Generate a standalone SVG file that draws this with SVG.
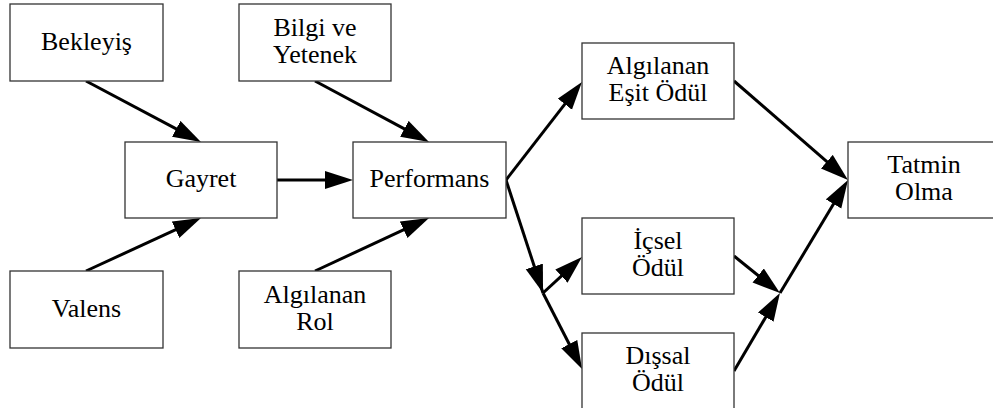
<svg xmlns="http://www.w3.org/2000/svg" width="993" height="408" viewBox="0 0 993 408">
  <defs>
    <!-- filled arrowhead; tip lies 20px beyond the path end -->
    <marker id="arrow" markerUnits="userSpaceOnUse" markerWidth="30" markerHeight="20" refX="8" refY="9" orient="auto">
      <path d="M0,0 L28,9 L0,18 z" fill="#000"/>
    </marker>
    <style>
      .box { fill: #fff; stroke: #333; stroke-width: 1.3; }
      .lbl { font-family: "Times New Roman", Times, "Liberation Serif", "DejaVu Serif", serif; font-size: 26px; fill: #000; text-anchor: middle; }
      .edge { stroke: #000; stroke-width: 3; fill: none; }
      .arr { marker-end: url(#arrow); }
    </style>
  </defs>
  <rect width="993" height="408" fill="#fff"/>

  <g id="connectors">
    <line class="edge arr" x1="86" y1="81" x2="183.3" y2="132.6"/>
    <line class="edge arr" x1="315" y1="81" x2="411.4" y2="132.6"/>
    <line class="edge arr" x1="86" y1="271" x2="182.8" y2="226.4"/>
    <line class="edge arr" x1="315" y1="271" x2="410.9" y2="226.4"/>
    <line class="edge arr" x1="277" y1="180" x2="333" y2="180"/>
    <line class="edge arr" x1="506" y1="180" x2="569.7" y2="97.8"/>
    <line class="edge arr" x1="506" y1="180" x2="536.8" y2="274"/>
    <line class="edge" x1="536.8" y1="274" x2="543" y2="293"/>
    <line class="edge arr" x1="543" y1="293" x2="567.3" y2="270.6"/>
    <line class="edge arr" x1="543" y1="293" x2="572.9" y2="351.2"/>
    <line class="edge arr" x1="734" y1="81" x2="832.9" y2="166.9"/>
    <line class="edge arr" x1="734" y1="256" x2="764.4" y2="280.5"/>
    <line class="edge arr" x1="734" y1="371" x2="769.8" y2="310.2"/>
    <line class="edge arr" x1="780" y1="293" x2="837.7" y2="197.1"/>
  </g>

  <g id="bekleyis">
    <rect class="box" x="10" y="4" width="153" height="77"/>
    <text class="lbl" x="86.5" y="49.5">Bekleyiş</text>
  </g>
  <g id="bilgi-yetenek">
    <rect class="box" x="239" y="4" width="152" height="77"/>
    <text class="lbl" x="315" y="35.5">Bilgi ve</text>
    <text class="lbl" x="315" y="62.5">Yetenek</text>
  </g>
  <g id="gayret">
    <rect class="box" x="125" y="142" width="152" height="76"/>
    <text class="lbl" x="201" y="187">Gayret</text>
  </g>
  <g id="performans">
    <rect class="box" x="353" y="142" width="153" height="76"/>
    <text class="lbl" x="429.5" y="187">Performans</text>
  </g>
  <g id="valens">
    <rect class="box" x="10" y="271" width="153" height="77"/>
    <text class="lbl" x="86.5" y="316.5">Valens</text>
  </g>
  <g id="algilanan-rol">
    <rect class="box" x="239" y="271" width="152" height="77"/>
    <text class="lbl" x="315" y="302.5">Algılanan</text>
    <text class="lbl" x="315" y="329.5">Rol</text>
  </g>
  <g id="esit-odul">
    <rect class="box" x="582" y="43" width="152" height="76"/>
    <text class="lbl" x="658" y="74">Algılanan</text>
    <text class="lbl" x="658" y="101">Eşit Ödül</text>
  </g>
  <g id="icsel-odul">
    <rect class="box" x="582" y="218" width="152" height="76"/>
    <text class="lbl" x="658" y="249">İçsel</text>
    <text class="lbl" x="658" y="276">Ödül</text>
  </g>
  <g id="dissal-odul">
    <rect class="box" x="582" y="333" width="152" height="76"/>
    <text class="lbl" x="658" y="364">Dışsal</text>
    <text class="lbl" x="658" y="391">Ödül</text>
  </g>
  <g id="tatmin-olma">
    <rect class="box" x="848" y="142" width="152" height="76"/>
    <text class="lbl" x="924" y="173">Tatmin</text>
    <text class="lbl" x="924" y="200">Olma</text>
  </g>
</svg>
